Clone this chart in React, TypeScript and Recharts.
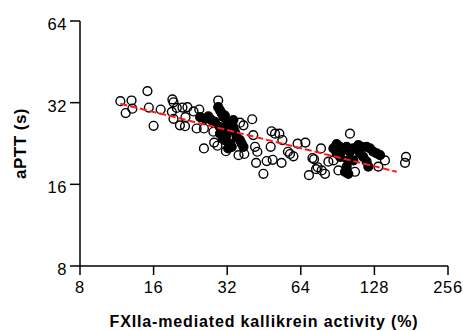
import React from 'react';
import { ScatterChart, Scatter, XAxis, YAxis } from 'recharts';

// Open circles (activity %, aPTT s)
const openX = [11.7, 12.3, 13.0, 13.1, 15.1, 15.3, 16.0, 17.1, 19.1, 19.3, 19.0, 19.3, 19.9, 20.5, 21.0, 21.6, 21.5, 22.0, 23.3, 24.0, 24.6, 25.7, 25.7, 28.1, 28.3, 29.4, 29.2, 31.6, 35.6, 36.1, 37.6, 37.3, 40.5, 40.9, 41.6, 42.5, 42.0, 45.0, 46.4, 48.6, 48.2, 49.1, 50.2, 52.3, 53.8, 53.4, 56.7, 57.8, 59.7, 62.1, 66.8, 69.1, 71.4, 73.9, 77.4, 77.9, 80.4, 83.0, 87.0, 91.2, 95.5, 101.7, 106.6, 132.8, 141.4, 170.8, 172.4, 72.5, 75.0];
const openY = [32.4, 29.3, 32.6, 30.4, 35.3, 30.7, 26.3, 30.2, 32.9, 32.1, 29.6, 27.9, 30.6, 26.4, 30.7, 28.3, 26.2, 30.8, 29.7, 25.7, 30.2, 21.7, 25.7, 25.0, 22.8, 32.6, 22.2, 21.2, 20.5, 27.0, 20.7, 26.4, 27.8, 24.3, 22.0, 21.1, 19.2, 17.5, 19.5, 25.1, 22.0, 19.7, 24.6, 24.6, 23.3, 19.2, 21.1, 20.7, 20.3, 22.6, 22.8, 17.3, 20.0, 18.2, 21.7, 18.0, 17.5, 19.4, 19.6, 18.0, 20.2, 24.6, 17.8, 18.6, 19.6, 19.2, 20.2, 19.8, 18.5];

// Filled circles (activity %, aPTT s)
const filledX = [24.8, 26.0, 26.8, 27.6, 28.5, 29.4, 29.9, 30.4, 30.9, 31.3, 29.9, 30.9, 31.8, 31.3, 32.9, 33.4, 32.3, 33.9, 34.4, 35.0, 36.1, 36.7, 37.3, 32.9, 33.9, 31.8, 29.9, 30.7, 87.0, 89.7, 92.6, 95.5, 98.6, 101.7, 100.1, 98.6, 100.1, 97.0, 105.0, 110.0, 111.8, 115.3, 119.0, 120.9, 122.8, 126.7, 130.8, 135.0, 119.0, 113.5, 92.6, 89.7, 105.0];
const filledY = [28.3, 27.9, 28.5, 27.6, 27.2, 30.8, 30.0, 29.2, 28.3, 28.7, 26.0, 25.0, 24.3, 23.3, 22.6, 22.0, 21.7, 26.0, 25.0, 23.9, 23.3, 22.6, 22.0, 26.8, 27.6, 26.4, 24.6, 23.6, 21.7, 22.5, 22.0, 21.4, 22.0, 21.1, 19.6, 18.6, 17.5, 17.8, 21.7, 22.3, 20.8, 20.2, 19.4, 18.6, 21.7, 21.1, 20.8, 20.5, 22.0, 22.0, 20.2, 20.8, 19.6];

// Regression line end points
const fitX = [11.7, 158];
const fitY = [31.7, 17.8];

const xTicks = [8, 16, 32, 64, 128, 256];
const yTicks = [8, 16, 32, 64];

const openData = openX.map((x, i) => ({ x, y: openY[i] }));
const filledData = filledX.map((x, i) => ({ x, y: filledY[i] }));
const fitData = fitX.map((x, i) => ({ x, y: fitY[i] }));

const font = 'Liberation Sans, Arial, sans-serif';

const OpenDot = (p: any) => (
  <circle cx={p.cx} cy={p.cy} r={4.4} fill="none" stroke="#000" strokeWidth={1.4} />
);
const FilledDot = (p: any) => (
  <circle cx={p.cx} cy={p.cy} r={4.4} fill="#000" stroke="#000" strokeWidth={1.4} />
);
const NoDot = () => <g />;

export default function App() {
  return (
    <div style={{ position: 'absolute', left: 0, top: 0, width: 463, height: 331, background: '#fff' }}>
      <ScatterChart width={463} height={331} margin={{ top: 21, right: 15, bottom: 0, left: 0 }}>
        <XAxis
          type="number"
          dataKey="x"
          scale="log"
          domain={[8, 256]}
          ticks={xTicks}
          allowDataOverflow
          height={65}
          tickSize={9}
          tickMargin={6}
          axisLine={{ stroke: '#000', strokeWidth: 1.5 }}
          tickLine={{ stroke: '#000', strokeWidth: 1.5 }}
          tick={{ fill: '#000', fontSize: 16.5, fontFamily: font, letterSpacing: 0.6 }}
          label={{ value: 'FXIIa-mediated kallikrein activity (%)', position: 'insideBottom', offset: 4, style: { fontWeight: 'bold', fontSize: 16, fontFamily: font, fill: '#000', letterSpacing: 0.85 } }}
        />
        <YAxis
          type="number"
          dataKey="y"
          scale="log"
          domain={[8, 64]}
          ticks={yTicks}
          allowDataOverflow
          width={80}
          tickSize={10}
          tickMargin={3}
          axisLine={{ stroke: '#000', strokeWidth: 1.5 }}
          tickLine={{ stroke: '#000', strokeWidth: 1.5 }}
          tick={{ fill: '#000', fontSize: 16.5, fontFamily: font, letterSpacing: 0.6, dy: 3 }}
          label={{ value: 'aPTT (s)', angle: -90, position: 'insideLeft', offset: 20, style: { textAnchor: 'middle', fontWeight: 'bold', fontSize: 17, fontFamily: font, fill: '#000', letterSpacing: 0.5 } }}
        />
        <Scatter data={openData} shape={OpenDot} isAnimationActive={false} />
        <Scatter data={filledData} shape={FilledDot} isAnimationActive={false} />
        <Scatter
          data={fitData}
          shape={NoDot}
          line={{ stroke: '#ff1a1a', strokeWidth: 2, strokeDasharray: '7 3' }}
          isAnimationActive={false}
        />
      </ScatterChart>
    </div>
  );
}
